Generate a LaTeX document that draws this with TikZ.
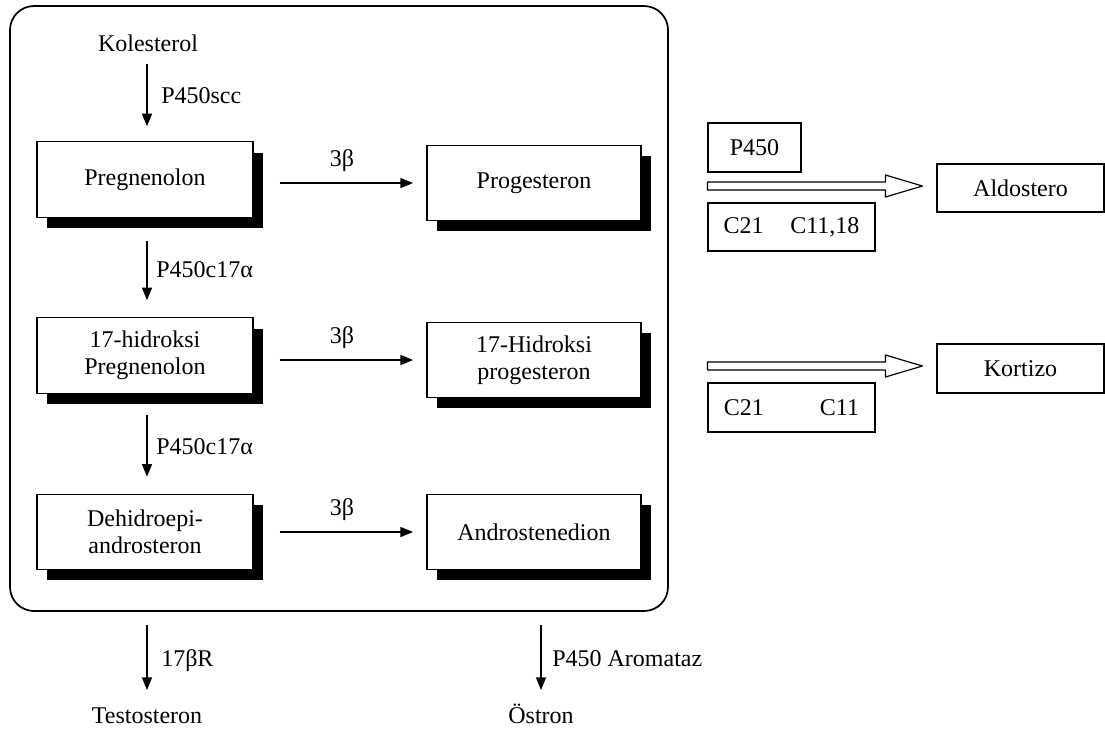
\documentclass[tikz,border=0pt]{standalone}
\usepackage{fontspec}
\setmainfont{Liberation Serif}
\usetikzlibrary{arrows.meta,shadows,calc}
\newcommand\hollowarrow[2]{%
  \draw[hollow] ($(#1)+(0,-4)$) -- ($(#2)+(-37,-4)$) -- ($(#2)+(-37,-11)$) -- (#2)
    -- ($(#2)+(-37,11)$) -- ($(#2)+(-37,4)$) -- ($(#1)+(0,4)$) -- cycle;}
\begin{document}
\begin{tikzpicture}[x=0.75pt,y=-0.75pt,
  font=\fontsize{18}{20}\selectfont,
  shbox/.style={draw, line width=0.9pt, fill=white, align=center, inner sep=0pt,
    minimum width=162pt, minimum height=56.5pt,
    drop shadow={shadow xshift=7.5pt, shadow yshift=-8pt, opacity=1, fill=black}},
  plainbox/.style={draw, line width=0.9pt, fill=white, align=center, inner sep=0pt},
  lbl/.style={inner sep=0pt, text height=12.5pt, text depth=3.5pt},
  arr/.style={line width=1.1pt, -{Triangle[length=9.5pt,width=7.5pt]}},
  hollow/.style={draw, line width=0.9pt, fill=white, line join=round}]
\useasboundingbox (0,0) rectangle (1105,729);
\draw[line width=1.3pt, rounded corners=18pt] (10,6) rectangle (668,611);

\node[lbl] (kol) at (148,45) {Kolesterol};
\node[shbox] (preg) at (145,179.5) {Pregnenolon};
\node[shbox, minimum width=160.5pt] (prog) at (534,183) {Progesteron};
\node[shbox] (hpreg) at (145,355.5) {17-hidroksi\\Pregnenolon};
\node[shbox, minimum width=160.5pt] (hprog) at (534,360) {17-Hidroksi\\progesteron};
\node[shbox] (dhea) at (145,532) {Dehidroepi-\\androsteron};
\node[shbox, minimum width=160.5pt] (andro) at (534,532) {Androstenedion};
\node[lbl] (test) at (147,717) {Testosteron};
\node[lbl] (ostr) at (541,717) {Östron};

\draw[arr, shorten <=6pt, shorten >=11.25pt] (kol.south -| 147,0) -- (preg.north -| 147,0);
\node[lbl, anchor=west] (l1) at (161,97) {P450scc};

\draw[arr, shorten <=17.25pt, shorten >=12.75pt] (preg.south -| 147,0) -- (hpreg.north -| 147,0);
\node[lbl, anchor=west] (l2) at (156,271) {P450c17α};
\draw[arr, shorten <=15.75pt, shorten >=12.75pt] (hpreg.south -| 147,0) -- (dhea.north -| 147,0);
\node[lbl, anchor=west] (l3) at (156,448) {P450c17α};

\draw[arr, shorten <=19.5pt, shorten >=10pt] (preg.east |- prog) -- (prog.west);
\draw[arr, shorten <=19.5pt, shorten >=10pt] (hpreg.east |- hprog) -- (hprog.west);
\draw[arr, shorten <=19.5pt, shorten >=10pt] (dhea.east |- andro) -- (andro.west);
\node[lbl] (b1) at (342,160) {3β};
\node[lbl] (b2) at (342,337) {3β};
\node[lbl] (b3) at (342,509) {3β};

\draw[arr, shorten <=41.25pt, shorten >=12pt] (dhea.south -| test) -- (test);
\node[lbl, anchor=west] (l4) at (161,660) {17βR};
\draw[arr, shorten <=41.25pt, shorten >=12pt] (andro.south -| ostr) -- (ostr);
\node[lbl, anchor=west] (l5) at (552,660) {P450 Aromataz};

% right side
\node[plainbox, minimum width=69.75pt, minimum height=36.75pt] (p450) at (754.5,147.5) {P450};
\node[plainbox, minimum width=125.25pt, minimum height=36pt] (c1118) at (791.5,227) {C21\hspace{20pt}C11,18};
\node[plainbox, minimum width=125.25pt, minimum height=36pt] (aldo) at (1020.5,188) {Aldostero};
\node[plainbox, minimum width=125.25pt, minimum height=36.75pt] (kort) at (1020.5,368.5) {Kortizo};
\node[plainbox, minimum width=125.25pt, minimum height=36.75pt] (c11) at (791.5,407.5) {C21\hspace{42pt}C11};

\coordinate (h1s) at (p450.west |- 0,186);
\coordinate (h1e) at ($(aldo.west |- 0,186)+(-14,0)$);
\hollowarrow{h1s}{h1e}
\coordinate (h2s) at (p450.west |- 0,366);
\coordinate (h2e) at ($(kort.west |- 0,366)+(-14,0)$);
\hollowarrow{h2s}{h2e}
\end{tikzpicture}
\end{document}
